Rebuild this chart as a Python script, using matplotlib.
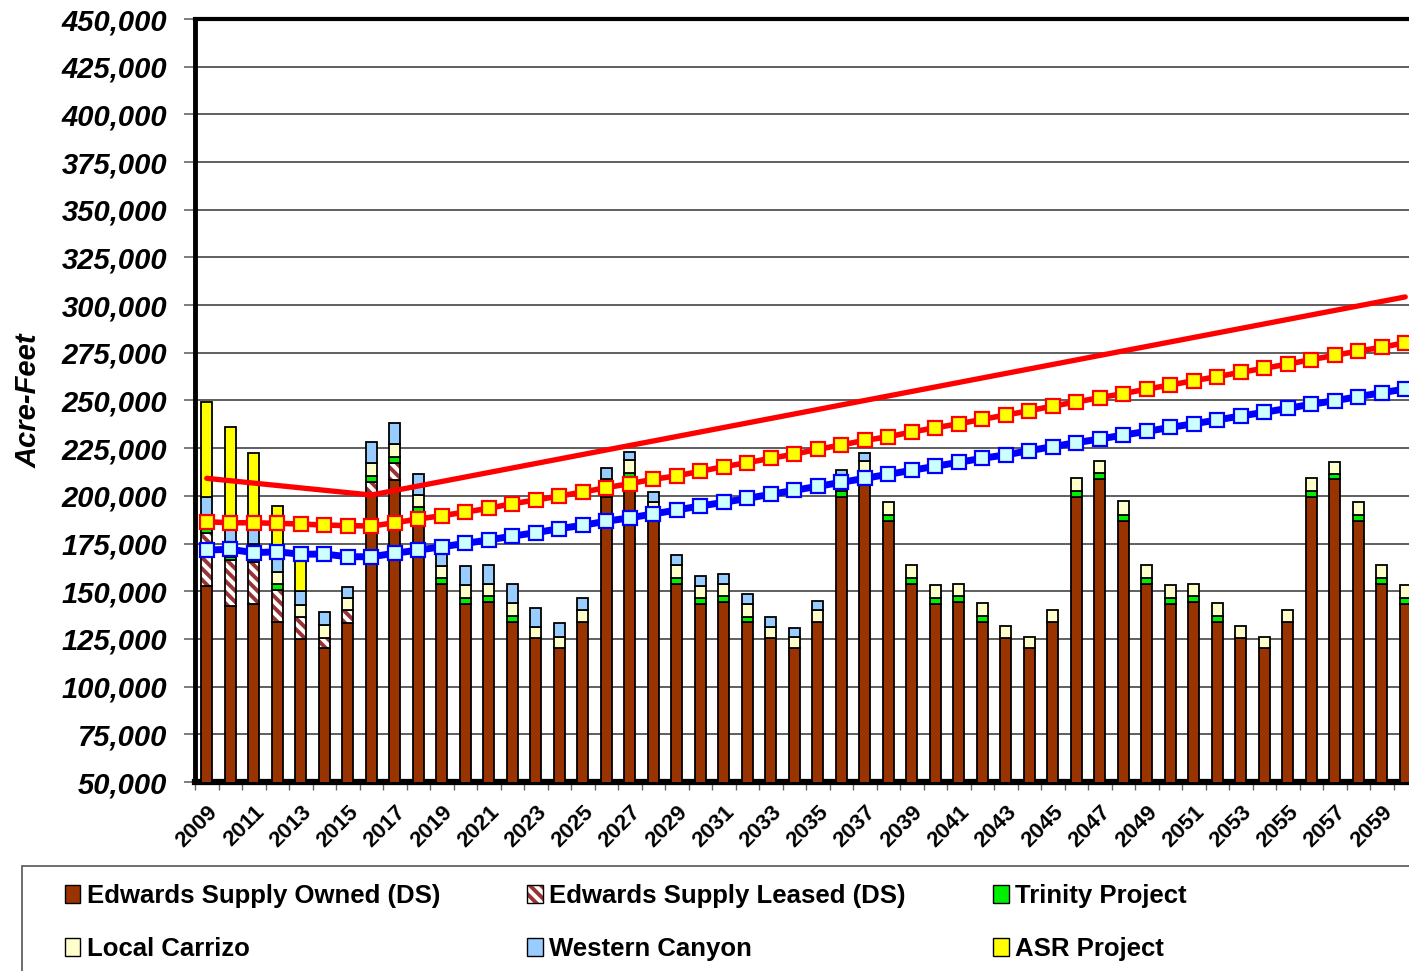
import numpy as np
import matplotlib
matplotlib.use('Agg')
import matplotlib.pyplot as plt
from matplotlib.patches import Patch, Rectangle
from matplotlib.ticker import FuncFormatter, MultipleLocator
from matplotlib.transforms import ScaledTranslation

plt.rcParams['font.family'] = ['Liberation Sans', 'DejaVu Sans']
plt.rcParams['hatch.linewidth'] = 2.8

# ----------------------------------------------------------------------
# data (acre-feet), one value per year 2009..2060
years = list(range(2009, 2061))

owned = [153000, 142500, 143500, 134000, 125000, 120000, 133500, 200000, 208500, 187000,
         154000, 143500, 144500, 134000, 125300, 120000, 133700, 199600, 209000, 187000,
         154000, 143500, 144500, 134000, 125300, 120000, 133700, 199600, 208700, 187000,
         154000, 143500, 144500, 134000, 125300, 120000, 133700, 199600, 208700, 187000,
         154000, 143500, 144500, 134000, 125300, 120000, 133700, 199600, 208700, 187000,
         154000, 143500]
leased = [27400, 23900, 22000, 16600, 11300, 5700, 6700, 7400, 8500, 4000] + [0] * 42
trinity = [3100, 1700, 2000, 3200, 0, 0, 0, 3000, 3200, 3000,
           3000, 3000, 3000, 3000, 0, 0, 0, 3000, 3000, 3000,
           3000, 3000, 3000, 2500, 0, 0, 0, 3000, 3000, 3000,
           3000, 3000, 3000, 3000, 0, 0, 0, 3000, 3500, 3200,
           3000, 3000, 3000, 3000, 0, 0, 0, 3000, 3000, 3000,
           3000, 3000]
carrizo = [6500, 7900, 7500, 6400, 6500, 6600, 6400, 6600, 6800, 6500,
           6300, 6700, 6300, 6700, 6100, 6100, 6500, 6300, 6600, 6900,
           6500, 6500, 6300, 6700, 6100, 6200, 6500, 6500, 6500, 6900,
           7000, 7000, 6500, 7000, 6600, 6200, 6500, 6600, 6200, 7000,
           7000, 7000, 6500, 7000, 6600, 6200, 6500, 6600, 6200, 7000,
           7000, 7000]
western_canyon = [9200, 7000, 8000, 7000, 7300, 7000, 5800, 11400, 11300, 10800,
                  10000, 10100, 10100, 9900, 9600, 7500, 6100, 5900, 4600, 4900,
                  5300, 5200, 5200, 5200, 5300, 4700, 4600, 4500, 4400] + [0] * 23
asr = [50150, 53200, 39600, 27500, 18900] + [0] * 47

red_years = [2009, 2016, 2060]
red_vals = [209200, 200450, 304300]

yellow_line = [186450, 185900, 185900, 185600, 185250, 184700, 184400, 184200, 185900, 187900,
               189600, 191500, 193500, 195900, 197800, 199900, 202000, 204300, 206400, 208700,
               210500, 212900, 215300, 217400, 219700, 221900, 224400, 226700, 229100, 231000,
               233500, 235700, 237800, 240100, 242400, 244600, 247100, 249200, 251500, 253600,
               256000, 258100, 260400, 262500, 264800, 266900, 269100, 271400, 273700, 275900,
               277900, 280300]
blue_line = [171600, 172000, 170200, 170700, 169400, 169500, 168100, 168100, 169900, 171600,
             173300, 175100, 176900, 178900, 180700, 182800, 184600, 186700, 188500, 190500,
             192600, 194700, 196600, 198700, 200800, 202900, 205000, 207100, 209200, 211300,
             213400, 215500, 217600, 219700, 221500, 223700, 225800, 227900, 229800, 231900,
             233800, 235900, 237800, 239800, 241900, 243800, 245900, 248000, 249900, 252000,
             254100, 256000]

# ----------------------------------------------------------------------
fig = plt.figure(figsize=(14.09, 9.71), dpi=100)
ax = fig.add_axes([195 / 1409, 1 - 782 / 971, 52 * 23.5 / 1409, 763 / 971])

x = np.arange(len(years))
w = 0.45
bottom = np.zeros(len(years))
HATCH = '\\\\\\'

def draw_stack(vals, color):
    global bottom
    vals = np.array(vals, dtype=float)
    m = vals > 0
    ax.bar(x[m], vals[m], w, bottom=bottom[m], color=color, edgecolor='black',
           linewidth=1.3, zorder=3)
    bottom = bottom + vals

draw_stack(owned, '#993300')

# leased portion is hatched
lv = np.array(leased, dtype=float)
m = lv > 0
ax.bar(x[m], lv[m], w, bottom=bottom[m], facecolor='white', edgecolor='#993333',
       hatch=HATCH, linewidth=0, zorder=3)
ax.bar(x[m], lv[m], w, bottom=bottom[m], fill=False, edgecolor='black',
       linewidth=1.3, zorder=3)
bottom = bottom + lv

draw_stack(trinity, '#00ee00')
draw_stack(carrizo, '#ffffcc')
draw_stack(western_canyon, '#99ccff')
draw_stack(asr, '#ffff00')

# lines
ax.plot([years.index(y) for y in red_years], red_vals, color='#ff0000', lw=3.8,
        zorder=5, solid_capstyle='round')
ax.plot(x, yellow_line, color='#ff0000', lw=4, marker='s', markersize=9.5,
        markerfacecolor='#ffff00', markeredgecolor='#ff0000', markeredgewidth=1.6, zorder=6)
ax.plot(x, blue_line, color='#0000ff', lw=5, marker='s', markersize=9.5,
        markerfacecolor='#ccffff', markeredgecolor='#0000ff', markeredgewidth=1.6, zorder=6)

# axes styling
ax.set_xlim(-0.5, 51.5)
ax.set_ylim(50000, 450000)
ax.yaxis.set_major_locator(MultipleLocator(25000))
ax.yaxis.set_major_formatter(FuncFormatter(lambda v, p: f'{v:,.0f}'))
ax.yaxis.grid(True, color='#444444', lw=1.2)
ax.set_axisbelow(True)

ax.set_xticks(x[::2])
ax.set_xticklabels([str(y) for y in years[::2]], rotation=45, ha='right',
                   rotation_mode='anchor', fontsize=16, fontweight='bold')
shift = ScaledTranslation(-11 / 100, 0, fig.dpi_scale_trans)
for lab in ax.get_xticklabels():
    lab.set_transform(lab.get_transform() + shift)
ax.set_xticks(np.arange(-0.5, 52, 1), minor=True)
ax.tick_params(axis='x', which='major', length=0, pad=14)
ax.tick_params(axis='x', which='minor', length=6, width=1, color='#666666')
ax.tick_params(axis='y', length=8, width=1.2, color='#666666', pad=12)
for lab in ax.get_yticklabels():
    lab.set_fontsize(21)
    lab.set_fontweight('bold')
    lab.set_fontstyle('italic')

ax.set_ylabel('Acre-Feet', fontsize=21, fontweight='bold', fontstyle='italic', labelpad=14)

for side, lw in (('left', 3.5), ('top', 3), ('bottom', 4.5), ('right', 3)):
    ax.spines[side].set_linewidth(lw)
    ax.spines[side].set_color('black')

# legend
fig.patches.append(Rectangle((22 / 1409, -0.02), 1.0, (971 - 866) / 971 + 0.02,
                             transform=fig.transFigure, facecolor='none',
                             edgecolor='#555555', lw=1.2))
handles = [
    Patch(facecolor='#993300', edgecolor='black'),
    Patch(facecolor='#ffffcc', edgecolor='black'),
    (Patch(facecolor='white', edgecolor='#993333', hatch=HATCH, lw=0),
     Patch(fill=False, edgecolor='black')),
    Patch(facecolor='#99ccff', edgecolor='black'),
    Patch(facecolor='#00ee00', edgecolor='black'),
    Patch(facecolor='#ffff00', edgecolor='black'),
]
labels = ['Edwards Supply Owned (DS)', 'Local Carrizo', 'Edwards Supply Leased (DS)',
          'Western Canyon', 'Trinity Project', 'ASR Project']
fig.legend(handles, labels, ncol=3, loc='upper left',
           bbox_to_anchor=(52 / 1409, 1 - 871 / 971), frameon=False,
           prop={'size': 18.5, 'weight': 'bold'}, handlelength=0.6, handleheight=0.7,
           handletextpad=0.25, columnspacing=3.4, labelspacing=1.12, borderpad=0)

fig.savefig('out.png', dpi=100)
